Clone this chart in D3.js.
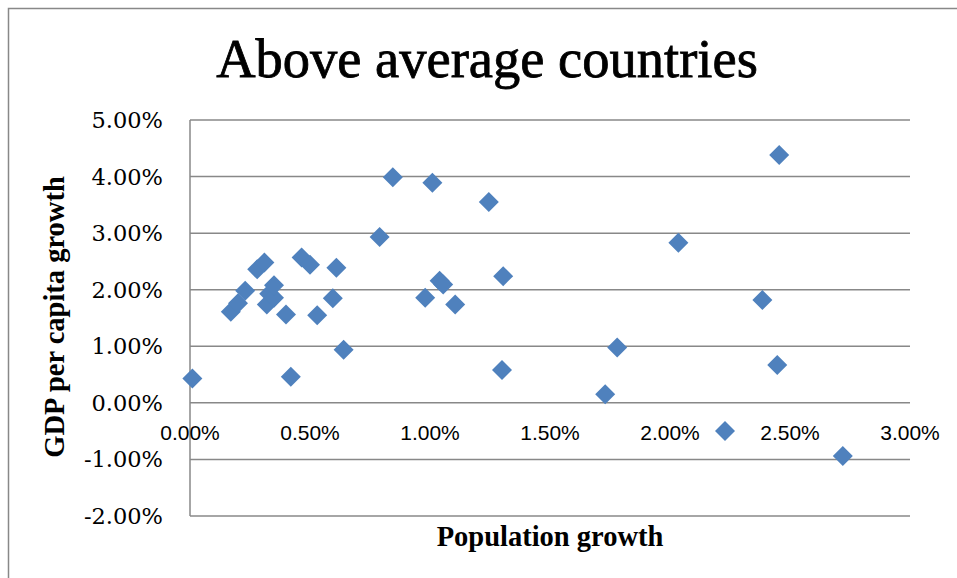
<!DOCTYPE html>
<html>
<head>
<meta charset="utf-8">
<script src="https://cdn.jsdelivr.net/npm/d3@7"></script>
<style>
  html, body { margin: 0; padding: 0; background: #fff; }
  svg { display: block; }
</style>
</head>
<body>
<div id="chart"></div>
<script>
// values, in percent
const popGrowth = [0.01, 0.42, 0.64, 0.17, 0.20, 0.23, 0.28, 0.31, 0.32, 0.33, 0.35, 0.35,
  0.40, 0.465, 0.50, 0.61, 0.595, 0.53, 0.845, 1.01, 1.245, 0.79, 1.04, 1.055,
  0.98, 1.105, 1.305, 1.30, 2.455, 2.035, 2.385, 1.78, 2.447, 1.73, 2.72];
const gdpGrowth = [0.43, 0.46, 0.94, 1.61, 1.76, 1.98, 2.36, 2.48, 1.74, 1.93, 1.86, 2.08,
  1.56, 2.57, 2.44, 2.39, 1.85, 1.55, 3.99, 3.89, 3.55, 2.93, 2.16, 2.09,
  1.86, 1.74, 2.24, 0.58, 4.38, 2.83, 1.82, 0.98, 0.67, 0.15, -0.94];
const xTicks = [0, 0.5, 1, 1.5, 2, 2.5, 3];
const yTicks = [-2, -1, 0, 1, 2, 3, 4, 5];

const width = 957, height = 578;
const blue = '#4f81bd', grid = '#888888';

const svg = d3.select('#chart').append('svg')
  .attr('width', width).attr('height', height);

// chart area border (open on the right and bottom, cropped)
svg.append('path')
  .attr('d', 'M8.5,578 V8.5 H957')
  .attr('fill', 'none').attr('stroke', grid).attr('stroke-width', 1.5);

const x = d3.scaleLinear().domain([0, 3]).range([190, 910]);
const y = d3.scaleLinear().domain([-2, 5]).range([516, 120]);
const pct = (v) => v.toFixed(2) + '%';

// horizontal gridlines
svg.append('g').selectAll('line')
  .data(yTicks).join('line')
  .attr('x1', x(0)).attr('x2', x(3))
  .attr('y1', (d) => y(d)).attr('y2', (d) => y(d))
  .attr('stroke', grid).attr('stroke-width', 1.5);

// vertical axis line
svg.append('line')
  .attr('x1', x(0)).attr('x2', x(0))
  .attr('y1', y(5)).attr('y2', y(-2))
  .attr('stroke', grid).attr('stroke-width', 1.5);

// y tick labels
svg.append('g').selectAll('text')
  .data(yTicks).join('text')
  .attr('x', 163).attr('y', (d) => y(d) + 8)
  .attr('text-anchor', 'end')
  .attr('font-family', 'DejaVu Serif').attr('font-size', 22.5)
  .text(pct);

// x tick labels, sitting on the zero line
svg.append('g').selectAll('text')
  .data(xTicks).join('text')
  .attr('x', (d) => x(d)).attr('y', y(0) + 37.5)
  .attr('text-anchor', 'middle')
  .attr('font-family', 'Liberation Sans, Arial').attr('font-size', 21)
  .text(pct);

// points
const diamond = d3.symbol(d3.symbolSquare, 200);
svg.append('g').selectAll('path')
  .data(popGrowth.map((p, i) => ({ p: p, g: gdpGrowth[i] })))
  .join('path')
  .attr('d', diamond)
  .attr('transform', (d) => `translate(${x(d.p)},${y(d.g)}) rotate(45)`)
  .attr('fill', blue);

// legend marker (no label)
svg.append('path')
  .attr('d', diamond)
  .attr('transform', 'translate(725,431) rotate(45)')
  .attr('fill', blue);

// titles
svg.append('text')
  .attr('x', 487).attr('y', 77)
  .attr('text-anchor', 'middle')
  .attr('font-family', 'Liberation Serif').attr('font-size', 54.5)
  .attr('stroke', '#000').attr('stroke-width', 0.8)
  .text('Above average countries');

svg.append('text')
  .attr('x', 550).attr('y', 546)
  .attr('text-anchor', 'middle')
  .attr('font-family', 'Liberation Serif').attr('font-weight', 'bold').attr('font-size', 28.5)
  .text('Population growth');

svg.append('text')
  .attr('transform', 'translate(64,317) rotate(-90)')
  .attr('text-anchor', 'middle')
  .attr('font-family', 'Liberation Serif').attr('font-weight', 'bold').attr('font-size', 28.5)
  .text('GDP per capita growth');
</script>
</body>
</html>
